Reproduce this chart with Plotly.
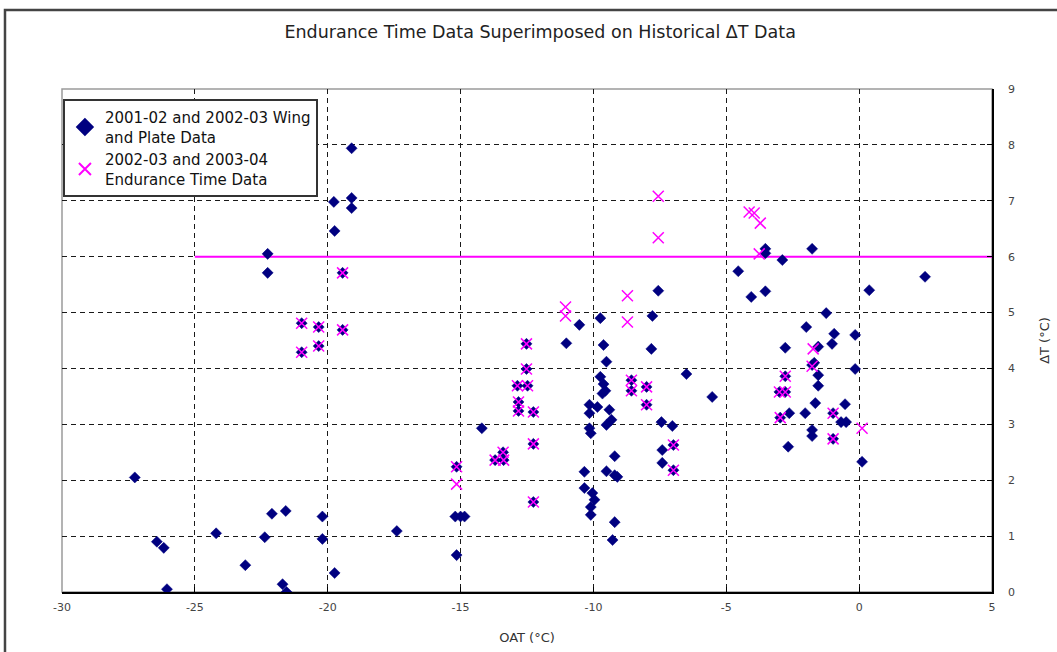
import plotly.graph_objects as go

# 2001-02 and 2002-03 wing and plate data (OAT in degC, delta T in degC)
hist_oat = [
    -27.26, -26.43, -26.17, -26.05, -24.2, -23.1, -22.37, -22.1, -21.58, -21.7,
    -21.55, -20.2, -20.2, -19.74, -17.4, -19.1, -19.77, -19.1, -19.1, -19.74,
    -22.26, -22.26, -14.2, -15.2, -15.0, -14.85, -15.15, -7.56, -9.74, -10.53,
    -7.78, -11.02, -9.62, -9.51, -7.82, -6.5, -5.53, -7.44, -7.03, -7.41,
    -7.41, -9.74, -9.62, -9.55, -9.66, -10.15, -9.85, -10.15, -9.4, -9.32,
    -9.51, -10.15, -10.1, -9.2, -10.34, -9.51, -9.2, -9.1, -10.34, -10.04,
    -9.96, -10.1, -10.1, -9.2, -9.28, -3.53, -3.53, -2.89, -1.77, -4.55,
    -4.06, -3.53, 0.38, 2.48, -1.24, -1.99, -0.94, -0.15, -1.02, -2.78,
    -1.54, -1.69, -1.77, -0.15, -1.54, -1.54, -1.65, -0.53, -2.63, -2.03,
    -0.68, -0.49, -1.77, -1.77, -2.67, 0.11,
    -19.44, -20.98, -20.34, -19.44, -20.98, -20.34, -12.52, -12.52, -12.86, -12.48,
    -12.82, -12.82, -12.26, -12.26, -13.4, -13.7, -13.38, -15.15, -12.26, -8.57,
    -8.57, -8.0, -8.0, -6.99, -6.99, -2.78, -3.0, -2.78, -2.97, -0.98, -0.98,
]
hist_dt = [
    2.05, 0.90, 0.79, 0.05, 1.05, 0.48, 0.98, 1.40, 1.45, 0.14,
    0.00, 1.35, 0.95, 0.34, 1.09, 7.94, 6.98, 7.05, 6.87, 6.46,
    6.05, 5.71, 2.93, 1.35, 1.35, 1.35, 0.66, 5.39, 4.90, 4.78,
    4.94, 4.45, 4.42, 4.12, 4.35, 3.90, 3.49, 3.04, 2.97, 2.54,
    2.31, 3.85, 3.72, 3.60, 3.55, 3.35, 3.31, 3.20, 3.26, 3.08,
    2.99, 2.93, 2.84, 2.43, 2.15, 2.16, 2.09, 2.06, 1.86, 1.77,
    1.65, 1.52, 1.38, 1.25, 0.93, 6.14, 6.06, 5.94, 6.14, 5.74,
    5.28, 5.38, 5.40, 5.64, 4.99, 4.74, 4.62, 4.60, 4.44, 4.37,
    4.39, 4.10, 4.06, 3.99, 3.88, 3.69, 3.38, 3.36, 3.20, 3.20,
    3.04, 3.04, 2.90, 2.79, 2.60, 2.33,
    5.71, 4.81, 4.74, 4.69, 4.29, 4.40, 4.44, 3.99, 3.69, 3.69,
    3.40, 3.24, 3.22, 2.65, 2.50, 2.36, 2.36, 2.24, 1.61, 3.79,
    3.60, 3.67, 3.35, 2.63, 2.18, 3.86, 3.58, 3.58, 3.12, 3.20, 2.74,
]

# 2002-03 and 2003-04 endurance time data
et_oat = [
    -19.44, -20.98, -20.34, -19.44, -20.98, -20.34, -12.52, -12.52, -12.86, -12.48,
    -12.82, -12.82, -12.26, -12.26, -13.4, -13.7, -13.38, -15.15, -12.26, -8.57,
    -8.57, -8.0, -8.0, -6.99, -6.99, -2.78, -3.0, -2.78, -2.97, -0.98, -0.98,
    -11.05, -11.05, -8.72, -8.72, -7.56, -7.56, -4.14, -3.95, -3.72, -3.76,
    -1.73, -1.77, -15.15, 0.11,
]
et_dt = [
    5.71, 4.81, 4.74, 4.69, 4.29, 4.40, 4.44, 3.99, 3.69, 3.69,
    3.40, 3.24, 3.22, 2.65, 2.50, 2.36, 2.36, 2.24, 1.61, 3.79,
    3.60, 3.67, 3.35, 2.63, 2.18, 3.86, 3.58, 3.58, 3.12, 3.20, 2.74,
    5.10, 4.94, 5.30, 4.83, 7.08, 6.34, 6.80, 6.78, 6.60, 6.05,
    4.35, 4.04, 1.93, 2.93,
]

# 6 degC reference line
limit_oat = [-25, 5]
limit_dt = [6, 6]

x_ticks = [-30, -25, -20, -15, -10, -5, 0, 5]
y_ticks = [0, 1, 2, 3, 4, 5, 6, 7, 8, 9]

fig = go.Figure()

fig.add_trace(go.Scatter(
    x=limit_oat, y=limit_dt, mode="lines",
    line=dict(color="#FF00FF", width=2), showlegend=False, hoverinfo="skip",
))
fig.add_trace(go.Scatter(
    x=hist_oat, y=hist_dt, mode="markers",
    name="2001-02 and 2002-03 Wing<br>and Plate Data",
    marker=dict(symbol="diamond", size=8.5, color="#000080",
                line=dict(color="#000080", width=0.5)),
))
fig.add_trace(go.Scatter(
    x=et_oat, y=et_dt, mode="markers",
    name="2002-03 and 2003-04<br>Endurance Time Data",
    marker=dict(symbol="x-thin-open", size=11, color="#FF00FF",
                line=dict(color="#FF00FF", width=1.5)),
))

grid_style = dict(showgrid=True, gridcolor="#1a1a1a", gridwidth=1.3, griddash="5px,4px")

fig.update_xaxes(
    range=[-30, 5], tickmode="array", tickvals=x_ticks,
    ticktext=[str(v) for v in x_ticks], automargin=False,
    showline=True, linecolor="black", linewidth=1.5,
    ticks="inside", ticklen=5, tickcolor="black", ticklabelstandoff=4,
    tickfont=dict(family="DejaVu Sans", size=11, color="#444"),
    title=dict(text="OAT (°C)", font=dict(family="DejaVu Sans", size=13, color="#333"), standoff=20),
    zeroline=False, **grid_style,
)
fig.update_yaxes(
    range=[0, 9], side="right", tickmode="array", tickvals=y_ticks,
    ticktext=[str(v) for v in y_ticks], automargin=False,
    showline=True, linecolor="black", linewidth=1.5,
    ticks="inside", ticklen=5, tickcolor="black", ticklabelstandoff=12,
    tickfont=dict(family="DejaVu Sans", size=11, color="#444"),
    title=dict(text="ΔT (°C)", font=dict(family="DejaVu Sans", size=13, color="#333"), standoff=26),
    zeroline=False, **grid_style,
)

shapes = [
    # plot-area border
    dict(type="rect", xref="paper", yref="paper", x0=0, y0=0, x1=1, y1=1,
         line=dict(color="#9a9a9a", width=1.5), layer="below"),
    # outer chart frame
    dict(type="path", xref="paper", yref="paper",
         path="M 1.2,1.157 L -0.0613,1.157 L -0.0613,-0.3",
         line=dict(color="#444", width=2.5)),
]

fig.update_layout(
    width=1057, height=652,
    margin=dict(l=62, r=65, t=89, b=60),
    paper_bgcolor="white", plot_bgcolor="white",
    title=dict(text="Endurance Time Data Superimposed on Historical ΔT Data",
               x=0.511, xanchor="center", y=0.951, yanchor="middle",
               font=dict(family="DejaVu Sans", size=17.5, color="#222")),
    legend=dict(x=0.001, y=0.98, xanchor="left", yanchor="top",
                bgcolor="white", bordercolor="#333", borderwidth=2,
                font=dict(family="DejaVu Sans", size=15, color="#111"),
                tracegroupgap=6, itemsizing="constant"),
    shapes=shapes,
    showlegend=True,
)

fig.write_html("out.html")
